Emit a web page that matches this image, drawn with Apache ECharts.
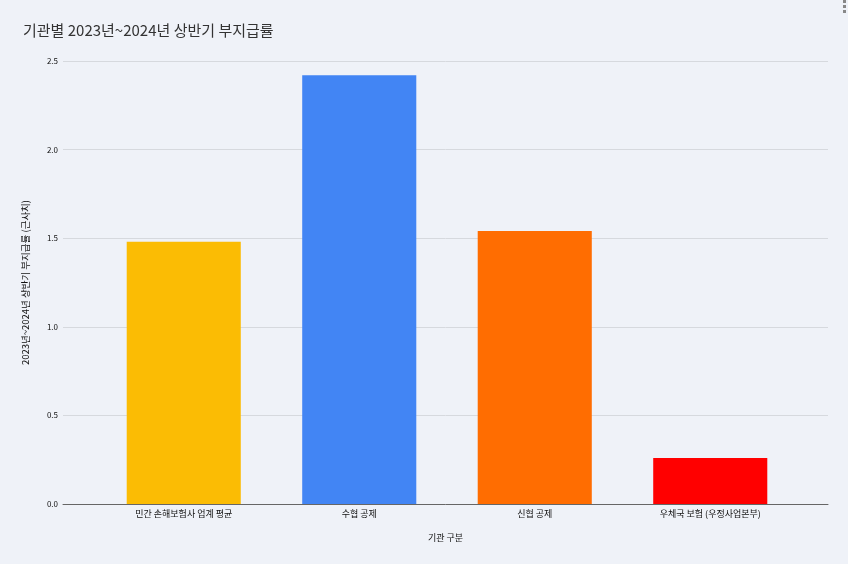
<!DOCTYPE html>
<html>
<head>
<meta charset="utf-8">
<script src="https://cdn.jsdelivr.net/npm/echarts@6/dist/echarts.min.js"></script>
<style>
  html, body { margin: 0; padding: 0; background: #eff2f8; }
  #chart { width: 848px; height: 564px; }
</style>
</head>
<body>
<div id="chart"></div>
<script>
const categories = ['민간 손해보험사 업계 평균', '수협 공제', '신협 공제', '우체국 보험 (우정사업본부)'];
const rates = [1.48, 2.42, 1.54, 0.26];
const barColors = ['#fbbc04', '#4285f4', '#ff6d01', '#ff0000'];
const yTicks = [0, 0.5, 1.0, 1.5, 2.0, 2.5];

const font = '"Noto Sans CJK KR", "Noto Sans", sans-serif';
const chart = echarts.init(document.getElementById('chart'));

chart.setOption({
  backgroundColor: '#eff2f8',
  animation: false,
  title: {
    text: '기관별 2023년~2024년 상반기 부지급률',
    left: 18, top: 18,
    textStyle: { fontFamily: font, fontSize: 15, fontWeight: 'normal', color: '#333' }
  },
  graphic: [0, 1, 2].map(i => ({
    type: 'rect', shape: { x: 843, y: 0 + i * 5, width: 3, height: 3 },
    style: { fill: '#888' }
  })),
  grid: [
    { left: 63, right: 20, top: 61, bottom: 60 },
    { left: 96, right: 50, top: 61, bottom: 60 }
  ],
  xAxis: [
    {
      gridIndex: 0, type: 'value', min: 0, max: 1,
      axisLine: { show: true, onZero: false, lineStyle: { color: '#666', width: 1 } },
      axisTick: { show: false }, axisLabel: { show: false }, splitLine: { show: false },
      name: '기관 구분', nameLocation: 'middle', nameGap: 29,
      nameTextStyle: { fontFamily: font, fontSize: 9, color: '#111' }
    },
    {
      gridIndex: 1, type: 'category', data: categories,
      axisLine: { show: false }, axisTick: { show: false },
      axisLabel: { fontFamily: font, fontSize: 9, color: '#111', margin: 5, interval: 0 }
    }
  ],
  yAxis: [
    {
      gridIndex: 0, type: 'value', min: 0, max: 2.5, interval: 0.5,
      axisLine: { show: false }, axisTick: { show: false },
      axisLabel: {
        fontFamily: font, fontSize: 8, color: '#111', margin: 5,
        formatter: v => yTicks.includes(v) ? v.toFixed(1) : ''
      },
      splitLine: { lineStyle: { color: '#d6d9de', width: 1 } },
      name: '2023년~2024년 상반기 부지급률 (근사치)', nameLocation: 'middle', nameGap: 33,
      nameTextStyle: { fontFamily: font, fontSize: 9.5, color: '#111' }
    },
    {
      gridIndex: 1, type: 'value', min: 0, max: 2.5, show: false
    }
  ],
  series: [{
    type: 'bar', xAxisIndex: 1, yAxisIndex: 1,
    data: rates.map((v, i) => ({ value: v, itemStyle: { color: barColors[i] } })),
    barCategoryGap: '35%'
  }]
});
</script>
</body>
</html>
